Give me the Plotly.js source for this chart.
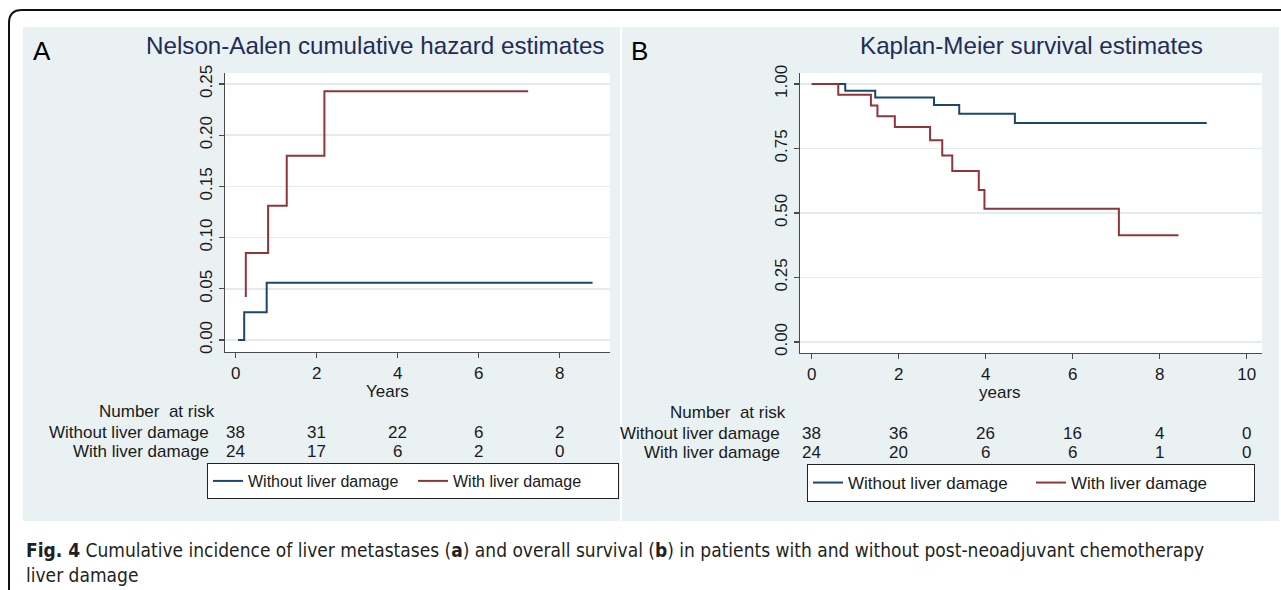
<!DOCTYPE html>
<html>
<head>
<meta charset="utf-8">
<script src="https://cdn.plot.ly/plotly-3.0.1.min.js"></script>
<style>html,body{margin:0;padding:0;background:#fff;overflow:hidden;width:1281px;height:590px;}#chart{width:1281px;height:590px;overflow:hidden;}</style>
</head>
<body>
<div id="chart"></div>
<script>
// ---------- data ----------
const seriesNames = ["Without liver damage", "With liver damage"];

// Panel A: Nelson-Aalen cumulative hazard (step points)
const naWithoutTime = [0.06, 0.21, 0.765, 8.81];
const naWithoutHaz  = [0.000, 0.027, 0.056, 0.056];
const naWithTime    = [0.25, 0.25, 0.80, 1.26, 2.19, 7.22];
const naWithHaz     = [0.042, 0.085, 0.131, 0.180, 0.243, 0.243];

// Panel B: Kaplan-Meier survival (step points)
const kmWithoutTime = [0, 0.77, 1.46, 2.81, 3.39, 4.67, 9.08];
const kmWithoutSurv = [1.000, 0.974, 0.948, 0.919, 0.885, 0.849, 0.849];
const kmWithTime    = [0, 0.61, 1.36, 1.51, 1.91, 2.72, 3.00, 3.23, 3.84, 3.97, 7.06, 8.43];
const kmWithSurv    = [1.000, 0.958, 0.917, 0.875, 0.833, 0.782, 0.723, 0.663, 0.589, 0.516, 0.414, 0.414];

// Number at risk
const riskTimesA      = [0, 2, 4, 6, 8];
const riskWithoutA    = [38, 31, 22, 6, 2];
const riskWithA       = [24, 17, 6, 2, 0];
const riskTimesB      = [0, 2, 4, 6, 8, 10];
const riskWithoutB    = [38, 36, 26, 16, 4, 0];
const riskWithB       = [24, 20, 6, 6, 1, 0];

// Axis ticks
const xTicksA = [0, 2, 4, 6, 8];
const yTicksA = [0, 0.05, 0.10, 0.15, 0.20, 0.25];
const yTickTextA = ["0.00", "0.05", "0.10", "0.15", "0.20", "0.25"];
const xTicksB = [0, 2, 4, 6, 8, 10];
const yTicksB = [0, 0.25, 0.5, 0.75, 1.0];
const yTickTextB = ["0.00", "0.25", "0.50", "0.75", "1.00"];

// ---------- styling ----------
const W = 1281, H = 590;
const fx = x => x / W;
const fy = y => 1 - y / H;
const BLUE = "#1a476f", RED = "#90353b";
const PANEL = "#e9f1f3", GRID = "#e2ecf0", AXIS = "#4a4a4a", TXT = "#1a1a1a";
const FONT = "Liberation Sans, Arial, sans-serif";

const traces = [
  {x: naWithoutTime, y: naWithoutHaz, name: seriesNames[0], xaxis: "x", yaxis: "y",
   mode: "lines", line: {color: BLUE, width: 2, shape: "hv"}, legend: "legend"},
  {x: naWithTime, y: naWithHaz, name: seriesNames[1], xaxis: "x", yaxis: "y",
   mode: "lines", line: {color: RED, width: 2, shape: "hv"}, legend: "legend"},
  {x: kmWithoutTime, y: kmWithoutSurv, name: seriesNames[0], xaxis: "x2", yaxis: "y2",
   mode: "lines", line: {color: BLUE, width: 2, shape: "hv"}, legend: "legend2"},
  {x: kmWithTime, y: kmWithSurv, name: seriesNames[1], xaxis: "x2", yaxis: "y2",
   mode: "lines", line: {color: RED, width: 2, shape: "hv"}, legend: "legend2"}
];

const axCommon = {
  showline: true, linecolor: AXIS, linewidth: 1.3, ticks: "outside", ticklen: 5,
  tickcolor: AXIS, tickwidth: 1.3, zeroline: false, mirror: false,
  tickfont: {family: FONT, size: 17, color: TXT}, fixedrange: true
};

// plot region pixel boxes
const A = {l: 225, r: 610, t: 73, b: 352};
const B = {l: 800, r: 1262, t: 73, b: 353};

const layout = {
  width: W, height: H,
  margin: {l: 0, r: 0, t: 0, b: 0, pad: 0},
  paper_bgcolor: "#ffffff",
  plot_bgcolor: "rgba(0,0,0,0)",
  font: {family: FONT, color: TXT},
  showlegend: true,
  xaxis: Object.assign({}, axCommon, {
    domain: [fx(A.l), fx(A.r)], range: [-0.264, 9.24],
    tickvals: xTicksA, showgrid: false, anchor: "y"
  }),
  yaxis: Object.assign({}, axCommon, {
    domain: [fy(A.b), fy(A.t)], range: [-0.0117, 0.2607],
    tickvals: yTicksA, ticktext: yTickTextA, tickangle: -90,
    showgrid: true, gridcolor: GRID, gridwidth: 1.5, anchor: "x"
  }),
  xaxis2: Object.assign({}, axCommon, {
    domain: [fx(B.l), fx(B.r)], range: [-0.27, 10.35],
    tickvals: xTicksB, showgrid: false, anchor: "y2"
  }),
  yaxis2: Object.assign({}, axCommon, {
    domain: [fy(B.b), fy(B.t)], range: [-0.0426, 1.0426],
    tickvals: yTicksB, ticktext: yTickTextB, tickangle: -90,
    showgrid: true, gridcolor: GRID, gridwidth: 1.5, anchor: "x2"
  }),
  legend: {
    orientation: "h", x: fx(207), y: fy(463), xanchor: "left", yanchor: "top",
    bgcolor: "#ffffff", bordercolor: "#222", borderwidth: 1,
    font: {family: FONT, size: 16, color: TXT}, entrywidth: 160, entrywidthmode: "pixels"
  },
  legend2: {
    orientation: "h", x: fx(807), y: fy(464), xanchor: "left", yanchor: "top",
    bgcolor: "#ffffff", bordercolor: "#222", borderwidth: 1,
    font: {family: FONT, size: 17, color: TXT}, entrywidth: 178, entrywidthmode: "pixels"
  },
  shapes: [],
  annotations: []
};

// panel backgrounds and white plot regions (paper shapes, below grid)
function rectPx(x0, y0, x1, y1, color) {
  return {type: "rect", xref: "paper", yref: "paper", layer: "below",
          x0: fx(x0), x1: fx(x1), y0: fy(y1), y1: fy(y0),
          fillcolor: color, line: {width: 0}};
}
layout.shapes.push(rectPx(23, 27, 620, 521, PANEL));
layout.shapes.push(rectPx(622, 27, 1279, 521, PANEL));
layout.shapes.push(rectPx(A.l, A.t, A.r, A.b, "#ffffff"));
layout.shapes.push(rectPx(B.l, B.t, B.r, B.b, "#ffffff"));

// outer rounded frame
const P = (x, y) => fx(x).toFixed(5) + "," + fy(y).toFixed(5);
layout.shapes.push({
  type: "path", xref: "paper", yref: "paper", layer: "above",
  path: "M " + P(1281, 10) + " L " + P(22, 10) + " Q " + P(9, 10) + " " + P(9, 23) + " L " + P(9, 590),
  line: {color: "#111", width: 2}
});

function ann(text, xPx, yPx, opts) {
  return Object.assign({
    text: text, xref: "paper", yref: "paper", x: fx(xPx), y: fy(yPx),
    xanchor: "center", yanchor: "middle", showarrow: false,
    font: {family: FONT, size: 17, color: TXT}
  }, opts || {});
}

// panel letters and titles
layout.annotations.push(ann("A", 42, 51, {font: {family: FONT, size: 26, color: "#000"}}));
layout.annotations.push(ann("B", 639, 51, {font: {family: FONT, size: 26, color: "#000"}}));
layout.annotations.push(ann("Nelson-Aalen cumulative hazard estimates", 375, 45,
  {font: {family: FONT, size: 24.2, color: "#1f2d57"}}));
layout.annotations.push(ann("Kaplan-Meier survival estimates", 1031, 45,
  {font: {family: FONT, size: 24.2, color: "#1f2d57"}}));

// axis titles
layout.annotations.push(ann("Years", 387, 391, {font: {family: FONT, size: 17, color: TXT}}));
layout.annotations.push(ann("years", 1000, 392, {font: {family: FONT, size: 17, color: TXT}}));

// number-at-risk tables
layout.annotations.push(ann("Number\u00a0 at risk", 217, 411, {xanchor: "right"}));
layout.annotations.push(ann(seriesNames[0], 211, 432, {xanchor: "right"}));
layout.annotations.push(ann(seriesNames[1], 211, 451, {xanchor: "right"}));
layout.annotations.push(ann("Number\u00a0 at risk", 788, 412, {xanchor: "right"}));
layout.annotations.push(ann(seriesNames[0], 782, 433, {xanchor: "right"}));
layout.annotations.push(ann(seriesNames[1], 782, 452, {xanchor: "right"}));

function riskRow(times, counts, xref, yPx) {
  times.forEach((t, i) => {
    layout.annotations.push({
      text: String(counts[i]), xref: xref, yref: "paper", x: t, y: fy(yPx),
      xanchor: "center", yanchor: "middle", showarrow: false,
      font: {family: FONT, size: 17, color: TXT}
    });
  });
}
riskRow(riskTimesA, riskWithoutA, "x", 432);
riskRow(riskTimesA, riskWithA, "x", 451);
riskRow(riskTimesB, riskWithoutB, "x2", 433);
riskRow(riskTimesB, riskWithB, "x2", 452);

// caption
layout.annotations.push({
  text: "<b>Fig. 4</b> Cumulative incidence of liver metastases (<b>a</b>) and overall survival (<b>b</b>) in patients with and without post-neoadjuvant chemotherapy<br>liver damage",
  xref: "paper", yref: "paper", x: fx(24), y: fy(537), xanchor: "left", yanchor: "top",
  align: "left", showarrow: false,
  font: {family: "DejaVu Sans Condensed, Liberation Sans, sans-serif", size: 19, color: "#231f20"}
});

Plotly.newPlot("chart", traces, layout, {displayModeBar: false, staticPlot: true});
</script>
</body>
</html>
